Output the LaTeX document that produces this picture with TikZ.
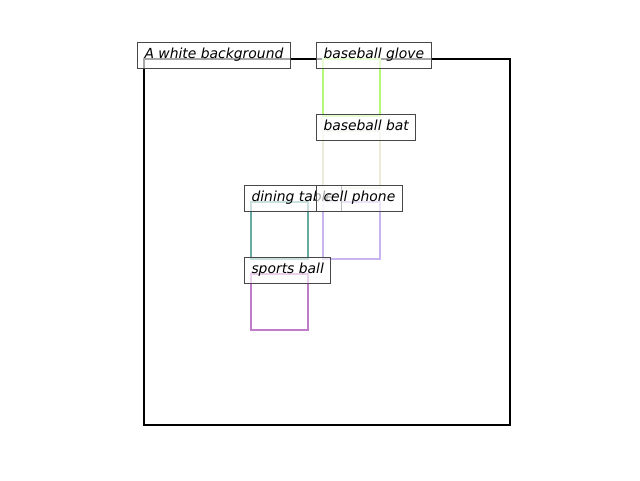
\documentclass[tikz,border=0pt]{standalone}
\usepackage{fontspec}
\setmainfont{DejaVu Sans}
\definecolor{cglove}{HTML}{B4F878}
\definecolor{cbat}{HTML}{ECEAD8}
\definecolor{cphone}{HTML}{C8B4EE}
\definecolor{ctable}{HTML}{66AAA2}
\definecolor{cball}{HTML}{C07CC8}
\begin{document}
\begin{tikzpicture}[x=1pt,y=-1pt,
  bbox/.style={line width=2pt},
  lbl/.style={draw=black!72, line width=1pt, fill=white, fill opacity=0.65, text opacity=1,
    anchor=base west, inner xsep=7pt, inner ysep=6pt, text height=10.5pt, text depth=3.5pt,
    font=\fontsize{13.9}{16}\selectfont\itshape}]
\useasboundingbox (0,0) rectangle (640,480);
% boxes
\draw[line width=2pt, black] (144,59) rectangle (510,425);
\draw[bbox, draw=cglove] (323,59) rectangle (380,116);
\draw[bbox, draw=cbat] (323,131) rectangle (380,188);
\draw[bbox, draw=ctable] (251,202) rectangle (308,259);
\draw[bbox, draw=cphone] (323,202) rectangle (380,259);
\draw[bbox, draw=cball] (251,274) rectangle (308,330);
% labels
\node[lbl] (bg) at (137,58.5) {A white background};
\node[lbl] (glove) at (316,58.5) {baseball glove};
\node[lbl] (bat) at (316,130.5) {baseball bat};
\node[lbl] (table) at (244,201.5) {dining table};
\node[lbl] (phone) at (316,201.5) {cell phone};
\node[lbl] (ball) at (244,273.5) {sports ball};
\end{tikzpicture}
\end{document}
